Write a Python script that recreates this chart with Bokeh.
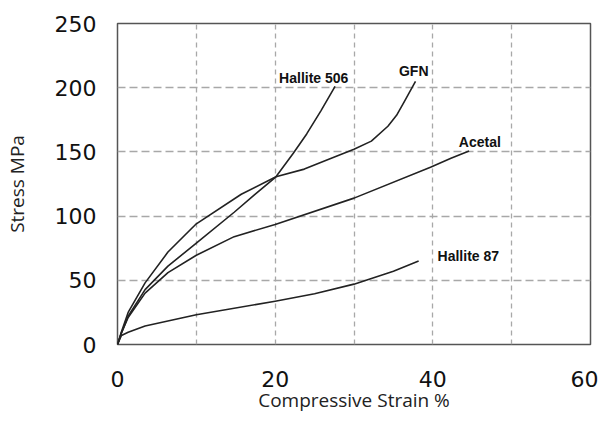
from bokeh.plotting import figure
from bokeh.models import Range1d, FixedTicker
from bokeh.core.properties import value
from bokeh.embed import file_html
from bokeh.resources import INLINE

# ---- data ----
gfn_x = [0, 0.5, 1.35, 3.5, 6.4, 10, 15.7, 20.1, 23.7, 26.8, 30, 32.2, 34.3, 35.4, 36.4, 37.8]
gfn_y = [0, 10, 25, 48, 72, 94, 117, 130.6, 136.6, 144.3, 152, 158.4, 170, 178.5, 189.3, 205]

h506_x = [0, 0.5, 1.35, 3.5, 6.4, 10, 14.8, 17.4, 20.1, 22.3, 24, 25.8, 27.6]
h506_y = [0, 9, 22, 42.7, 61, 79, 103, 116.8, 130.6, 149, 164, 182, 201]

acetal_x = [0, 0.5, 1.35, 3.5, 6.4, 10, 14.8, 20, 30, 39.7, 42.3, 44.6]
acetal_y = [0, 9, 21, 40, 56, 69.5, 84, 93.5, 114, 138, 145, 150.7]

h87_x = [0, 0.5, 1.35, 3.5, 10, 20, 25, 30, 35, 38.2]
h87_y = [0, 7, 9.5, 14.4, 23.2, 33.7, 39.5, 47, 57, 65]

series_names = ["Hallite 506", "GFN", "Acetal", "Hallite 87"]
x_ticks = [0, 20, 40, 60]
y_ticks = [0, 50, 100, 150, 200, 250]
x_grid = [10, 20, 30, 40, 50]
y_grid = [50, 100, 150, 200]

# label anchor positions (data units)
label_x = [20.5, 35.7, 43.3, 40.6]
label_y = [207.6, 213.3, 158, 68.7]

p = figure(width=598, height=415, output_backend="svg", toolbar_location=None,
           x_range=Range1d(0, 60), y_range=Range1d(0, 250),
           min_border_left=116, min_border_right=8, min_border_top=23,
           min_border_bottom=68)

p.background_fill_color = "white"
p.border_fill_color = "white"
p.outline_line_color = "#555555"
p.outline_line_width = 1.5

for ax in (p.xaxis[0], p.yaxis[0]):
    ax.axis_line_color = None
    ax.major_tick_line_color = None
    ax.minor_tick_line_color = None
    ax.major_label_text_font = "DejaVu Sans"
    ax.major_label_text_font_size = "22px"
    ax.major_label_text_color = "#111111"
    ax.axis_label_text_font = "Open Sans"
    ax.axis_label_text_font_size = "19px"
    ax.axis_label_text_font_style = "normal"
    ax.axis_label_text_color = "#222222"

p.xaxis.ticker = FixedTicker(ticks=x_ticks)
p.yaxis.ticker = FixedTicker(ticks=y_ticks)
p.xaxis.major_label_standoff = 20
p.yaxis.major_label_standoff = 15
p.xaxis.axis_label = "Compressive Strain %"
p.yaxis.axis_label = "Stress MPa"
p.xaxis.axis_label_standoff = -3
p.yaxis.axis_label_standoff = 22

p.xgrid.ticker = FixedTicker(ticks=x_grid)
p.ygrid.ticker = FixedTicker(ticks=y_grid)
p.xgrid.grid_line_color = "#a8a8a8"
p.ygrid.grid_line_color = "#a8a8a8"
p.xgrid.grid_line_dash = "5 4"
p.ygrid.grid_line_dash = "8 4"
p.xgrid.grid_line_width = 1.3
p.ygrid.grid_line_width = 1.3

for xs, ys in [(h506_x, h506_y), (gfn_x, gfn_y), (acetal_x, acetal_y), (h87_x, h87_y)]:
    p.line(xs, ys, line_color="#222222", line_width=1.6, line_join="round")

p.text(x=label_x, y=label_y, text=series_names,
       text_font=value("Liberation Sans"), text_font_style="bold",
       text_font_size="14px", text_color="#111111",
       text_align="left", text_baseline="middle")

open("out.html", "w").write(file_html(p, INLINE))
